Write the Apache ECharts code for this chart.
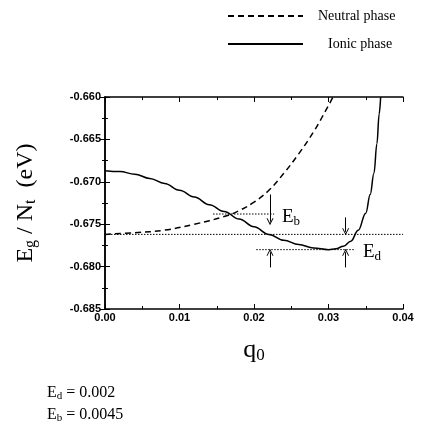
<!DOCTYPE html>
<html>
<head>
<meta charset="utf-8">
<script src="https://cdn.jsdelivr.net/npm/echarts@6/dist/echarts.min.js"></script>
<style>html,body{margin:0;padding:0;background:#fff;}#c{width:425px;height:428px;}</style>
</head>
<body>
<div id="c"></div>
<script>
// ---- data ----
const xTicks = [0, 0.01, 0.02, 0.03, 0.04];
const yTicks = [-0.685, -0.680, -0.675, -0.670, -0.665, -0.660];
const neutralQ = [0, 0.004, 0.008, 0.012, 0.016, 0.018, 0.020, 0.022, 0.024, 0.026, 0.028, 0.030, 0.0306];
const neutralE = [-0.6762, -0.6760, -0.6757, -0.6750, -0.6741, -0.6734, -0.6724, -0.6710, -0.6690, -0.6667, -0.6641, -0.6610, -0.6600];
const ionicQ = [0, 0.002, 0.004, 0.006, 0.008, 0.010, 0.012, 0.014, 0.016, 0.018, 0.020, 0.022, 0.024, 0.026, 0.028, 0.030, 0.031, 0.032, 0.033, 0.034, 0.035, 0.0356, 0.0361, 0.0365, 0.0368, 0.0370];
const ionicE = [-0.6687, -0.6688, -0.6691, -0.6696, -0.6702, -0.6710, -0.6718, -0.6727, -0.6735, -0.6744, -0.6753, -0.6762, -0.6769, -0.6774, -0.6778, -0.6780, -0.6779, -0.6776, -0.6770, -0.6757, -0.6737, -0.6715, -0.6690, -0.6655, -0.6620, -0.6600];
const refLevel = -0.6762;            // dotted horizontal level
const refQ = [0, 0.04];
const ebLevel = -0.6738;             // upper dotted line (crossing)
const ebQ = [0.0145, 0.0227];
const edLevel = -0.6780;             // lower dotted line (minimum)
const edQ = [0.0203, 0.0336];
const arrowsDown = [[0.02215, -0.6715, -0.6747], [0.0323, -0.6742, -0.6759]];
const arrowsUp = [[0.02215, -0.6801, -0.6783], [0.0323, -0.6801, -0.6783]];
const seriesNames = ['Neutral phase', 'Ionic phase'];

const zip = (a, b) => a.map((v, i) => [v, b[i]]);
const serif = 'Liberation Serif, Times New Roman, serif';
const sans = 'Liberation Sans, Arial, sans-serif';

const arrowSym = 'path://M0,10 L5,0 L10,10 L8.6,10 L5,3 L1.4,10 Z';
const arrowLines = arrowsDown.concat(arrowsUp).map(a => [{coord: [a[0], a[1]]}, {coord: [a[0], a[2]]}]);

const chart = echarts.init(document.getElementById('c'), null, {renderer: 'canvas'});
const axisBase = {
  axisLine: {show: true, lineStyle: {color: '#000', width: 1.5}},
  axisTick: {show: true, inside: true, length: 5, lineStyle: {color: '#000', width: 1}},
  minorTick: {show: true, splitNumber: 2, length: 3, lineStyle: {color: '#000', width: 1}},
  splitLine: {show: false}
};
chart.setOption({
  animation: false,
  backgroundColor: '#fff',
  grid: {left: 105, top: 97, width: 298, height: 212, containLabel: false},
  legend: {
    data: seriesNames,
    orient: 'vertical',
    left: 222, top: 4,
    itemWidth: 75, itemHeight: 14, itemGap: 14,
    itemStyle: {opacity: 0},
    formatter: n => n === 'Ionic phase' ? '{i|' + n + '}' : '{n|' + n + '}',
    textStyle: {fontFamily: serif, fontSize: 14, color: '#000',
      rich: {n: {fontFamily: serif, fontSize: 14, color: '#000', padding: [0, 0, 0, 10]},
             i: {fontFamily: serif, fontSize: 14, color: '#000', padding: [0, 0, 0, 20]}}}
  },
  xAxis: [
    Object.assign({}, axisBase, {
      type: 'value', min: xTicks[0], max: xTicks[xTicks.length - 1], interval: 0.01,
      position: 'bottom',
      axisLabel: {formatter: v => v.toFixed(2), fontFamily: sans, fontSize: 11, fontWeight: 'bold', color: '#000', margin: 3},
      name: '{q|q}{s|0}', nameLocation: 'middle', nameGap: 28,
      nameTextStyle: {rich: {q: {fontFamily: serif, fontSize: 26, color: '#000'}, s: {fontFamily: serif, fontSize: 17, color: '#000', verticalAlign: 'bottom', padding: [10, 0, 0, 0]}}}
    }),
    Object.assign({}, axisBase, {
      type: 'value', min: xTicks[0], max: xTicks[xTicks.length - 1], interval: 0.01,
      position: 'top', axisLabel: {show: false}
    })
  ],
  yAxis: [
    Object.assign({}, axisBase, {
      type: 'value', min: yTicks[0], max: yTicks[yTicks.length - 1], interval: 0.005,
      position: 'left',
      axisLabel: {formatter: v => v.toFixed(3), fontFamily: sans, fontSize: 11, fontWeight: 'bold', color: '#000', margin: 4},
      name: '{e|E}{s|g}{e| / N}{s|t}{e|  (eV)}', nameLocation: 'middle', nameRotate: 90, nameGap: 66,
      nameTextStyle: {rich: {e: {fontFamily: serif, fontSize: 24, color: '#000'}, s: {fontFamily: serif, fontSize: 16, color: '#000', padding: [11, 0, 0, 0]}}}
    }),
    Object.assign({}, axisBase, {
      type: 'value', min: yTicks[0], max: yTicks[yTicks.length - 1], interval: 0.005,
      position: 'right', axisLabel: {show: false}
    })
  ],
  series: [
    {
      name: seriesNames[0], type: 'line', data: zip(neutralQ, neutralE),
      symbol: 'none', smooth: 0.4,
      lineStyle: {color: '#000', width: 1.5, type: [6, 4]}, itemStyle: {color: '#000'}
    },
    {
      name: seriesNames[1], type: 'line', data: zip(ionicQ, ionicE),
      symbol: 'none', smooth: 0.4, smoothMonotone: 'x',
      lineStyle: {color: '#000', width: 1.5}, itemStyle: {color: '#000'},
      markLine: {
        silent: true, symbol: ['none', arrowSym], symbolSize: [7, 7],
        label: {show: false},
        lineStyle: {color: '#000', width: 1, type: 'solid'},
        data: arrowLines
      }
    },
    {
      name: 'ref', type: 'line', data: refQ.map(q => [q, refLevel]), symbol: 'none',
      lineStyle: {color: '#000', width: 1, type: [1.5, 1.5]}
    },
    {
      name: 'eb', type: 'line', data: ebQ.map(q => [q, ebLevel]), symbol: 'none',
      lineStyle: {color: '#000', width: 1, type: [1.5, 1.5]}
    },
    {
      name: 'ed', type: 'line', data: edQ.map(q => [q, edLevel]), symbol: 'none',
      lineStyle: {color: '#000', width: 1, type: [1.5, 1.5]}
    }
  ],
  graphic: [
    {type: 'text', left: 282, top: 208, style: {
      text: '{e|E}{s|b}', rich: {e: {fontFamily: serif, fontSize: 19, fill: '#000'}, s: {fontFamily: serif, fontSize: 13, fill: '#000', padding: [8, 0, 0, 0]}}}},
    {type: 'text', left: 363, top: 243, style: {
      text: '{e|E}{s|d}', rich: {e: {fontFamily: serif, fontSize: 19, fill: '#000'}, s: {fontFamily: serif, fontSize: 13, fill: '#000', padding: [8, 0, 0, 0]}}}},
    {type: 'text', left: 47, top: 385, style: {
      text: '{e|E}{s|d}{e| = 0.002}', rich: {e: {fontFamily: serif, fontSize: 16, fill: '#000'}, s: {fontFamily: serif, fontSize: 11, fill: '#000', padding: [6, 0, 0, 0]}}}},
    {type: 'text', left: 47, top: 407, style: {
      text: '{e|E}{s|b}{e| = 0.0045}', rich: {e: {fontFamily: serif, fontSize: 16, fill: '#000'}, s: {fontFamily: serif, fontSize: 11, fill: '#000', padding: [6, 0, 0, 0]}}}}
  ]
});
</script>
</body>
</html>
